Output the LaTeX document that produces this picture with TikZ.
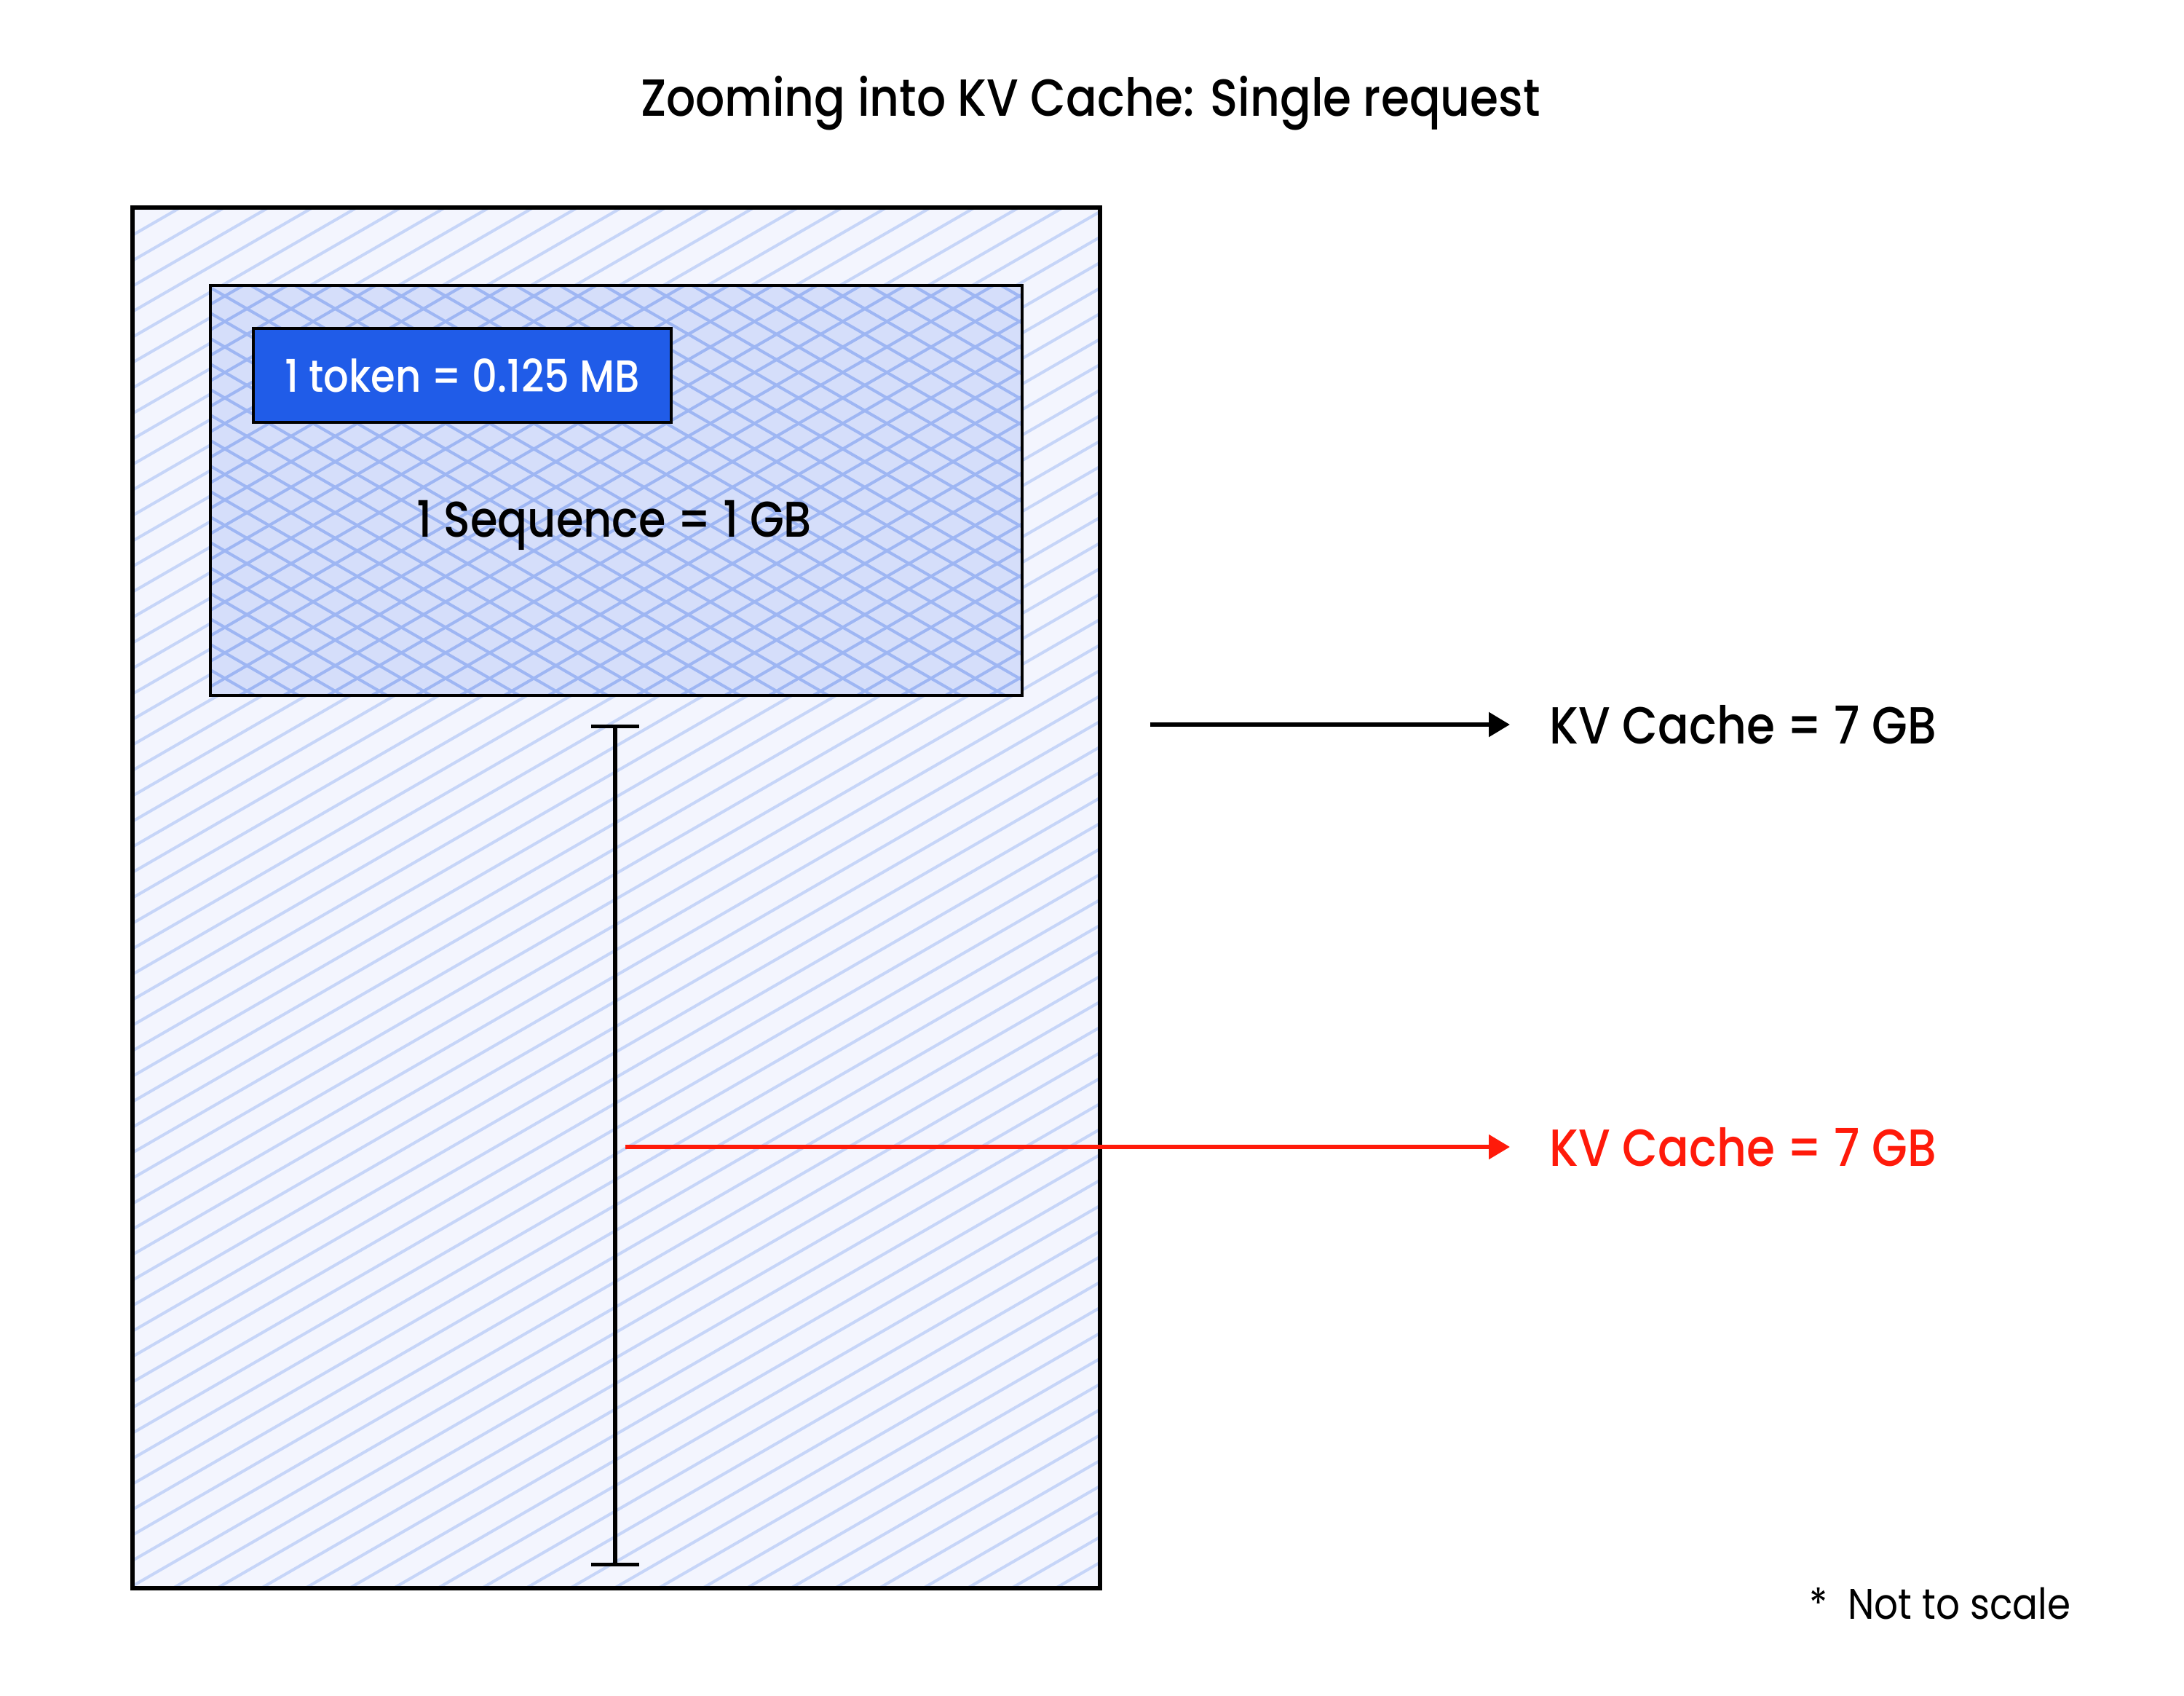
\documentclass[tikz,border=0pt]{standalone}
\usepackage{fontspec}
\setmainfont{Poppins}[FakeStretch=0.88]
\newfontfamily\medfont{Poppins Medium}[FakeStretch=0.88]
\usetikzlibrary{positioning, arrows.meta}

\definecolor{outerfill}{HTML}{F3F5FE}
\definecolor{outerline}{HTML}{C6D5F8}
\definecolor{innerfill}{HTML}{D5DEFA}
\definecolor{innerline}{HTML}{9EB6F3}
\definecolor{tokenfill}{HTML}{205CE8}
\definecolor{kvred}{HTML}{FF1A0A}

\begin{document}
\begin{tikzpicture}[
    memory/.style={rectangle, fill=outerfill, outer sep=0pt,
        minimum width=13.29cm, minimum height=18.96cm},
    sequence/.style={rectangle, fill=innerfill, outer sep=0pt,
        minimum width=11.15cm, minimum height=5.63cm},
    hatch/.style={line width=1.15pt},
    token/.style={rectangle, fill=tokenfill, draw=black, line width=0.9pt, outer sep=0pt,
        minimum width=5.74cm, minimum height=1.29cm, text=white,
        font=\medfont\fontsize{17.6}{20}\selectfont},
    title/.style={font=\medfont\fontsize{20.4}{24}\selectfont},
    seqlabel/.style={font=\medfont\fontsize{19.6}{23}\selectfont},
    kvlabel/.style={anchor=west, inner xsep=0.54cm, inner ysep=0pt,
        font=\medfont\fontsize{20.4}{24}\selectfont},
    note/.style={font=\fontsize{16.7}{20}\selectfont},
    arrow/.style={-{Triangle[length=0.29cm, width=0.33cm]}, line width=1.6pt},
    span/.style={{Bar[width=0.66cm, line width=1.5pt]}-{Bar[width=0.66cm, line width=1.5pt]}, line width=1.5pt}
]
\useasboundingbox (0,0) rectangle (30,23.28);

% Title
\node[title] (head) at (14.98, 21.86) {Zooming into KV Cache: Single request};

% Whole KV cache
\node[memory] (cache) at (8.465, 10.95) {};
\begin{scope}
    \clip (cache.south west) rectangle (cache.north east);
    \foreach \k in {0,...,77} {
        \draw[hatch, outerline] (1.82, -6.2+\k*0.35) -- ++(30:15.5);
    }
\end{scope}
\draw[line width=1.7pt] (cache.south west) rectangle (cache.north east);

% One sequence
\node[sequence] (seq) at (8.465, 16.545) {};
\begin{scope}
    \clip (seq.south west) rectangle (seq.north east);
    \foreach \k in {0,...,36} {
        \draw[hatch, innerline] (2.89, 7.2+\k*0.35) -- ++(30:13);
        \draw[hatch, innerline] (2.89, 13.73+\k*0.35) -- ++(-30:13);
    }
\end{scope}
\draw[line width=1pt] (seq.south west) rectangle (seq.north east);

\node[token] (tok) at (6.35, 18.125) {1 token = 0.125 MB};
\node[seqlabel] (seqtext) at (8.44, 16.07) {1 Sequence = 1 GB};

% Span of the cache
\coordinate (spantop) at (8.45, 13.33);
\coordinate (spanbot) at (8.45, 1.77);
\draw[span] (spantop) -- (spanbot);

% Labels with arrows
\coordinate (blackstart) at (15.80, 13.33);
\node[kvlabel] (kvtop) at (20.74, 13.33) {KV Cache = 7 GB};
\draw[arrow] (blackstart) -- (kvtop.west);

\coordinate (redstart) at (8.59, 7.53);
\node[kvlabel, text=kvred] (kvbot) at (20.74, 7.53) {KV Cache = 7 GB};
\draw[arrow, kvred] (redstart) -- (kvbot.west);

% Note
\node[note] (scale) at (26.65, 1.26) {*\ \ Not to scale};

\end{tikzpicture}
\end{document}
